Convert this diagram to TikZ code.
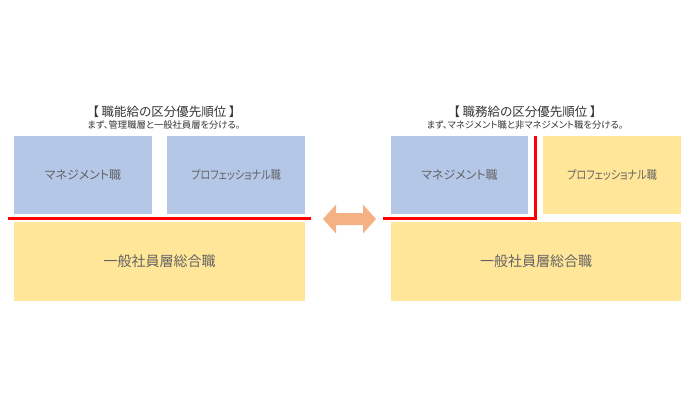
\documentclass[tikz,border=0pt]{standalone}
\usepackage{fontspec}
\setmainfont{Noto Sans CJK JP}[RawFeature=+palt]
\usepackage{graphicx}
\definecolor{boxblue}{HTML}{B4C7E7}
\definecolor{boxyellow}{HTML}{FFE699}
\definecolor{boxtext}{HTML}{636363}
\definecolor{titletext}{HTML}{333333}
\definecolor{sepred}{HTML}{FF0000}
\definecolor{arroworange}{HTML}{F4B183}
\tikzset{
  box/.style={inner sep=0pt, outer sep=0pt, anchor=north west, text=boxtext, font=\fontsize{12}{14}\selectfont},
  bluebox/.style={box, fill=boxblue},
  yellowbox/.style={box, fill=boxyellow},
  titlelabel/.style={text=titletext, font=\fontsize{12.5}{14}\selectfont, inner sep=0pt},
  sublabel/.style={text=titletext, font=\fontsize{9.3}{11}\selectfont, inner sep=0pt},
  separator/.style={draw=sepred, line width=3pt},
  swaparrow/.style={fill=arroworange},
}
\newcommand{\protext}{\scalebox{0.84}[1]{プロフェッショナル職}}
\begin{document}
\begin{tikzpicture}[x=1pt,y=-1pt]
\useasboundingbox (0,0) rectangle (700,400);
% left panel
\node[titlelabel] (ltitle) at (164,112) {【 職能給の区分優先順位 】};
\node[sublabel] (lsub) at (164,125) {まず、管理職層と一般社員層を分ける。};
\node[bluebox, minimum width=138pt, minimum height=78pt] (lman) at (14,136) {マネジメント職};
\node[bluebox, minimum width=138pt, minimum height=78pt] (lpro) at (167,136) {\protext};
\node[yellowbox, minimum width=291pt, minimum height=79pt, font=\fontsize{14}{16}\selectfont] (lgen) at (14,222) {一般社員層総合職};
\coordinate (lsepa) at (8,218);
\coordinate (lsepb) at (311,218);
\draw[separator] (lsepa) -- (lsepb);
% arrow
\coordinate (swap) at (349.5,219);
\fill[swaparrow] ([xshift=-26.5pt]swap) -- ++(13,-14.5) -- ++(0,8.5) -- ++(27,0) -- ++(0,-8.5)
  -- ([xshift=26.5pt]swap) -- ++(-13,14.5) -- ++(0,-8.5) -- ++(-27,0) -- ++(0,8.5) -- cycle;
% right panel
\node[titlelabel] (rtitle) at (525,112) {【 職務給の区分優先順位 】};
\node[sublabel] (rsub) at (525,125) {まず、マネジメント職と非マネジメント職を分ける。};
\node[bluebox, minimum width=137pt, minimum height=78pt] (rman) at (391,136) {マネジメント職};
\node[yellowbox, minimum width=138pt, minimum height=78pt] (rpro) at (543,136) {\protext};
\node[yellowbox, minimum width=290pt, minimum height=79pt, font=\fontsize{14}{16}\selectfont] (rgen) at (391,222) {一般社員層総合職};
\coordinate (rsepa) at (383,218);
\coordinate (rsepb) at (535.7,218);
\coordinate (rsepc) at (535.7,136);
\draw[separator, line join=miter] (rsepa) -- (rsepb) -- (rsepc);
\end{tikzpicture}
\end{document}
